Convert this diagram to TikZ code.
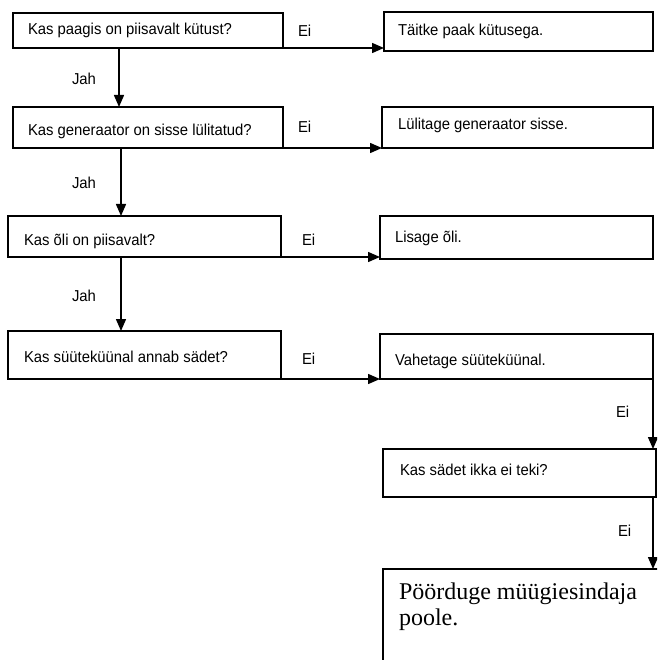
\documentclass[tikz,border=0pt]{standalone}
\usepackage{fontspec}
\setmainfont{Liberation Sans}[FakeStretch=0.94]
\newfontfamily\tnrfont{Liberation Serif}
\usetikzlibrary{arrows.meta}
\begin{document}
\begin{tikzpicture}[x=1pt,y=-1pt,
  boxst/.style={draw=black,line width=1.4pt,inner sep=0pt,outer sep=0pt,anchor=north west},
  lbl/.style={inner sep=0pt,outer sep=0pt,anchor=base west,font=\fontsize{15.8}{18}\selectfont},
  arr/.style={draw=black,line width=1.5pt,-{Triangle[length=12pt,width=10pt]}},
  plain/.style={draw=black,line width=1.5pt}]
\useasboundingbox (0,0) rectangle (657,660);
\clip (0,0) rectangle (657,660);
% boxes
\node[boxst,minimum width=270pt,minimum height=35pt] (b1) at (13,13) {};
\node[boxst,minimum width=269pt,minimum height=39pt] (a1) at (384,12) {};
\node[boxst,minimum width=270pt,minimum height=41pt] (b2) at (13,107) {};
\node[boxst,minimum width=271pt,minimum height=41pt] (a2) at (382,107) {};
\node[boxst,minimum width=273pt,minimum height=41pt] (b3) at (8,216) {};
\node[boxst,minimum width=273pt,minimum height=43pt] (a3) at (380,216) {};
\node[boxst,minimum width=273pt,minimum height=48pt] (b4) at (8,331) {};
\node[boxst,minimum width=273pt,minimum height=45pt] (a4) at (380,334) {};
\node[boxst,minimum width=273pt,minimum height=48pt] (b5) at (383,449) {};
\node[boxst,minimum width=320pt,minimum height=150pt] (b6) at (383,569) {};
% texts
\node[lbl] (t1) at (28,35) {Kas paagis on piisavalt kütust?};
\node[lbl] (u1) at (398,36) {Täitke paak kütusega.};
\node[lbl] (t2) at (28,136) {Kas generaator on sisse lülitatud?};
\node[lbl] (u2) at (398,130) {Lülitage generaator sisse.};
\node[lbl] (t3) at (24,245) {Kas õli on piisavalt?};
\node[lbl] (u3) at (395,242) {Lisage õli.};
\node[lbl] (t4) at (24,362) {Kas süüteküünal annab sädet?};
\node[lbl] (u4) at (395,365) {Vahetage süüteküünal.};
\node[lbl] (t5) at (400,475) {Kas sädet ikka ei teki?};
\node[lbl,font=\tnrfont\fontsize{24}{26}\selectfont,align=left] (t6) at (399,625) {Pöörduge müügiesindaja\\poole.};
% edge labels
\node[lbl] (e1) at (298,37) {Ei};
\node[lbl] (e2) at (298,133) {Ei};
\node[lbl] (e3) at (302,245) {Ei};
\node[lbl] (e4) at (302,364) {Ei};
\node[lbl] (e5) at (616,417) {Ei};
\node[lbl] (e6) at (618,536) {Ei};
\node[lbl] (j1) at (72,85) {Jah};
\node[lbl] (j2) at (72,189) {Jah};
\node[lbl] (j3) at (72,301) {Jah};
% connectors
\draw[arr] (b1.south -| 119,0) -- (b2.north -| 119,0);
\draw[arr] (b2.south -| 121,0) -- (b3.north -| 121,0);
\draw[arr] (b3.south -| 121,0) -- (b4.north -| 121,0);
\draw[arr] (b1.south east) -- (b1.south east -| a1.west);
\draw[arr] (b2.south east) -- (b2.south east -| a2.west);
\draw[arr] (b3.south east) -- (b3.south east -| a3.west);
\draw[arr] (b4.south east) -- (b4.south east -| a4.west);
\draw[arr] (a4.south east) -- (a4.south east |- b5.north);
\draw[arr] (a4.south east |- b5.south) -- (a4.south east |- b6.north);
\end{tikzpicture}
\end{document}
